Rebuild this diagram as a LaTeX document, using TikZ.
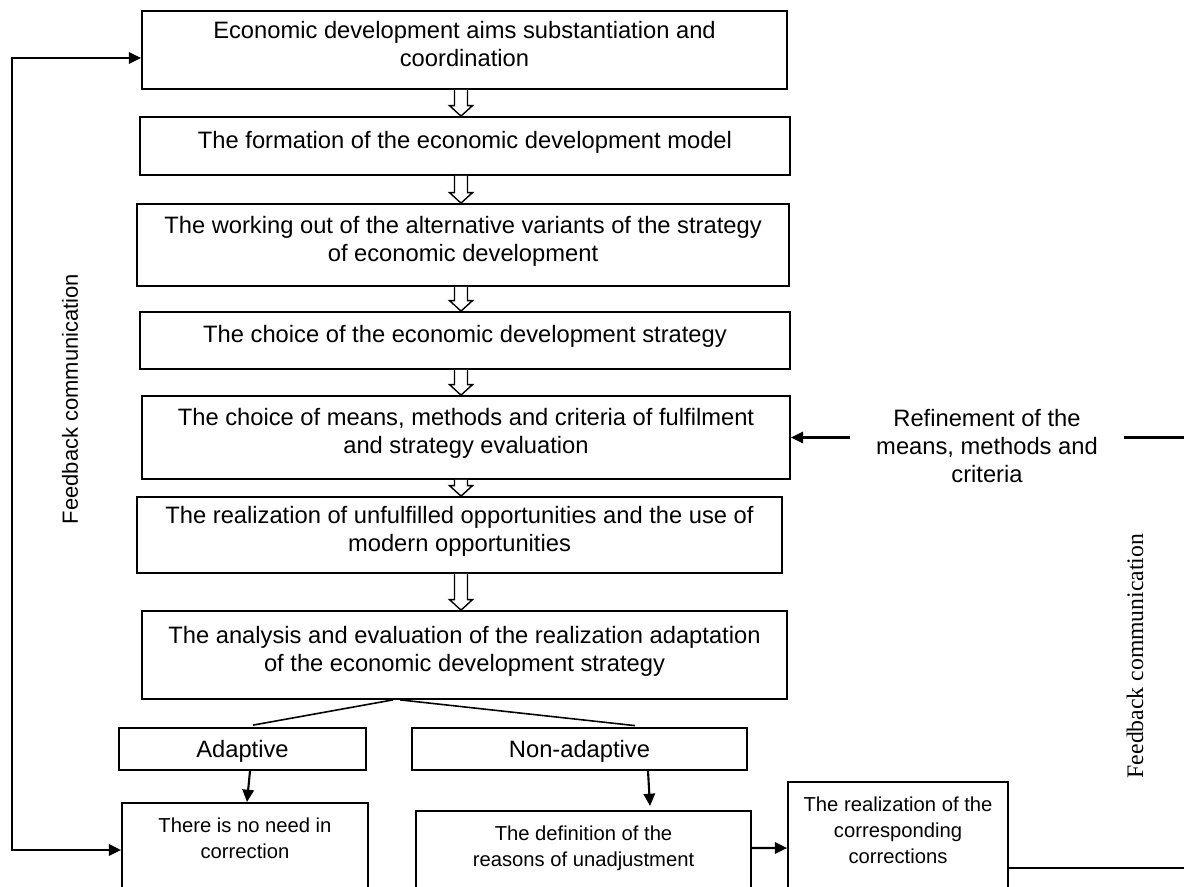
\documentclass[tikz,border=0pt]{standalone}
\usepackage{fontspec}
\setmainfont{Liberation Sans}
\newfontfamily\serifcap{Liberation Serif}
\usetikzlibrary{arrows.meta,calc}

% hollow block arrow from the bottom of one box to the top of the next
\newcommand{\hollowarrow}[2]{%
  \draw[fill=white, line width=0.8pt]
    ($(axis |- #1.south)+(-0.13,0)$) -- ($(axis |- #2.north)+(-0.13,0.21)$)
    -- ++(-0.10,0) -- (axis |- #2.north) -- ($(axis |- #2.north)+(0.23,0.21)$)
    -- ++(-0.10,0) -- ($(axis |- #1.south)+(0.13,0)$);
}

\begin{document}
\begin{tikzpicture}[
    box/.style={rectangle, draw, line width=1pt, align=center, inner sep=0pt,
        text depth=0.26cm, font=\fontsize{13.5}{15.9}\selectfont},
    branchbox/.style={box, text depth=0pt},
    cutbox/.style={box, anchor=north, inner ysep=0.3cm, text depth=2cm,
        font=\fontsize{11.5}{14.7}\selectfont},
    line/.style={line width=1.2pt},
    >={Triangle[length=7pt,width=6.5pt]}
]
    \clip (0,0) rectangle (23.68,17.72);
    \coordinate (axis) at (9.22,0);

    % Main chain of stages
    \node[box, minimum width=12.9cm, minimum height=1.56cm] (aims) at (9.29,16.72)
        {Economic development aims substantiation and\\coordination};
    \node[box, minimum width=13.0cm, minimum height=1.16cm] (model) at (9.30,14.80)
        {The formation of the economic development model};
    \node[box, minimum width=13.04cm, minimum height=1.64cm] (variants) at (9.26,12.82)
        {The working out of the alternative variants of the strategy\\of economic development};
    \node[box, minimum width=13.0cm, minimum height=1.14cm] (choice) at (9.30,10.91)
        {The choice of the economic development strategy};
    \node[box, minimum width=12.96cm, minimum height=1.66cm] (means) at (9.32,8.97)
        {The choice of means, methods and criteria of fulfilment\\and strategy evaluation};
    \node[box, minimum width=12.9cm, minimum height=1.52cm] (realize) at (9.19,7.02)
        {The realization of unfulfilled opportunities and the use of\\modern opportunities};
    \node[box, minimum width=12.9cm, minimum height=1.76cm] (analysis) at (9.29,4.62)
        {The analysis and evaluation of the realization adaptation\\of the economic development strategy};

    \hollowarrow{aims}{model}
    \hollowarrow{model}{variants}
    \hollowarrow{variants}{choice}
    \hollowarrow{choice}{means}
    \hollowarrow{means}{realize}
    \hollowarrow{realize}{analysis}

    % Outcome of the evaluation
    \node[branchbox, minimum width=4.94cm, minimum height=0.84cm] (adaptive) at (4.85,2.74) {Adaptive};
    \node[branchbox, minimum width=6.70cm, minimum height=0.84cm] (nonadapt) at (11.59,2.74) {Non-adaptive};
    \draw[line width=0.9pt] ([xshift=-1.43cm]analysis.south) -- ([xshift=0.21cm,yshift=0.04cm]adaptive.north);
    \draw[line width=0.9pt] ([xshift=-1.29cm]analysis.south) -- ([xshift=1.11cm,yshift=0.03cm]nonadapt.north);

    \node[cutbox, minimum width=4.92cm] (noneed) at (4.90,1.68) {There is no need in\\correction};
    \node[cutbox, minimum width=6.70cm] (defn) at (11.67,1.52) {The definition of the\\reasons of unadjustment};
    \node[cutbox, minimum width=4.40cm] (corr) at (17.96,2.10)
        {The realization of the\\corresponding\\corrections};

    \draw[line, ->] ([xshift=0.15cm]adaptive.south) -- ([xshift=0.04cm]noneed.north);
    \draw[line, ->] ([xshift=1.37cm]nonadapt.south) -- ([xshift=1.33cm,yshift=0.08cm]defn.north);
    \draw[line, ->] ([yshift=-0.76cm]defn.north east) -- ([yshift=-1.34cm]corr.north west);

    % Feedback loops
    \node[box, draw=none, inner xsep=0.5cm, text depth=0pt] (refine) at (19.74,8.80)
        {Refinement of the\\means, methods and\\criteria};
    \draw[line, ->] (refine.west |- means.east) -- (means.east);

    \coordinate (feedL) at (0.24,8.0);
    \coordinate (feedR) at (24.2,5.0);
    \draw[line, <->] ([yshift=-0.16cm]aims.west) -| (feedL) |- ([yshift=-0.96cm]noneed.north west);
    \draw[line] ([yshift=-1.74cm]corr.north east) -| (feedR) |- (refine.east |- means.east);

    \node[rotate=90, font=\fontsize{12.5}{14}\selectfont] (fbleft) at (1.40,9.74) {Feedback communication};
    \node[rotate=90, font=\serifcap\fontsize{13.5}{15}\selectfont] (fbright) at (22.70,4.60) {Feedback communication};
\end{tikzpicture}
\end{document}
